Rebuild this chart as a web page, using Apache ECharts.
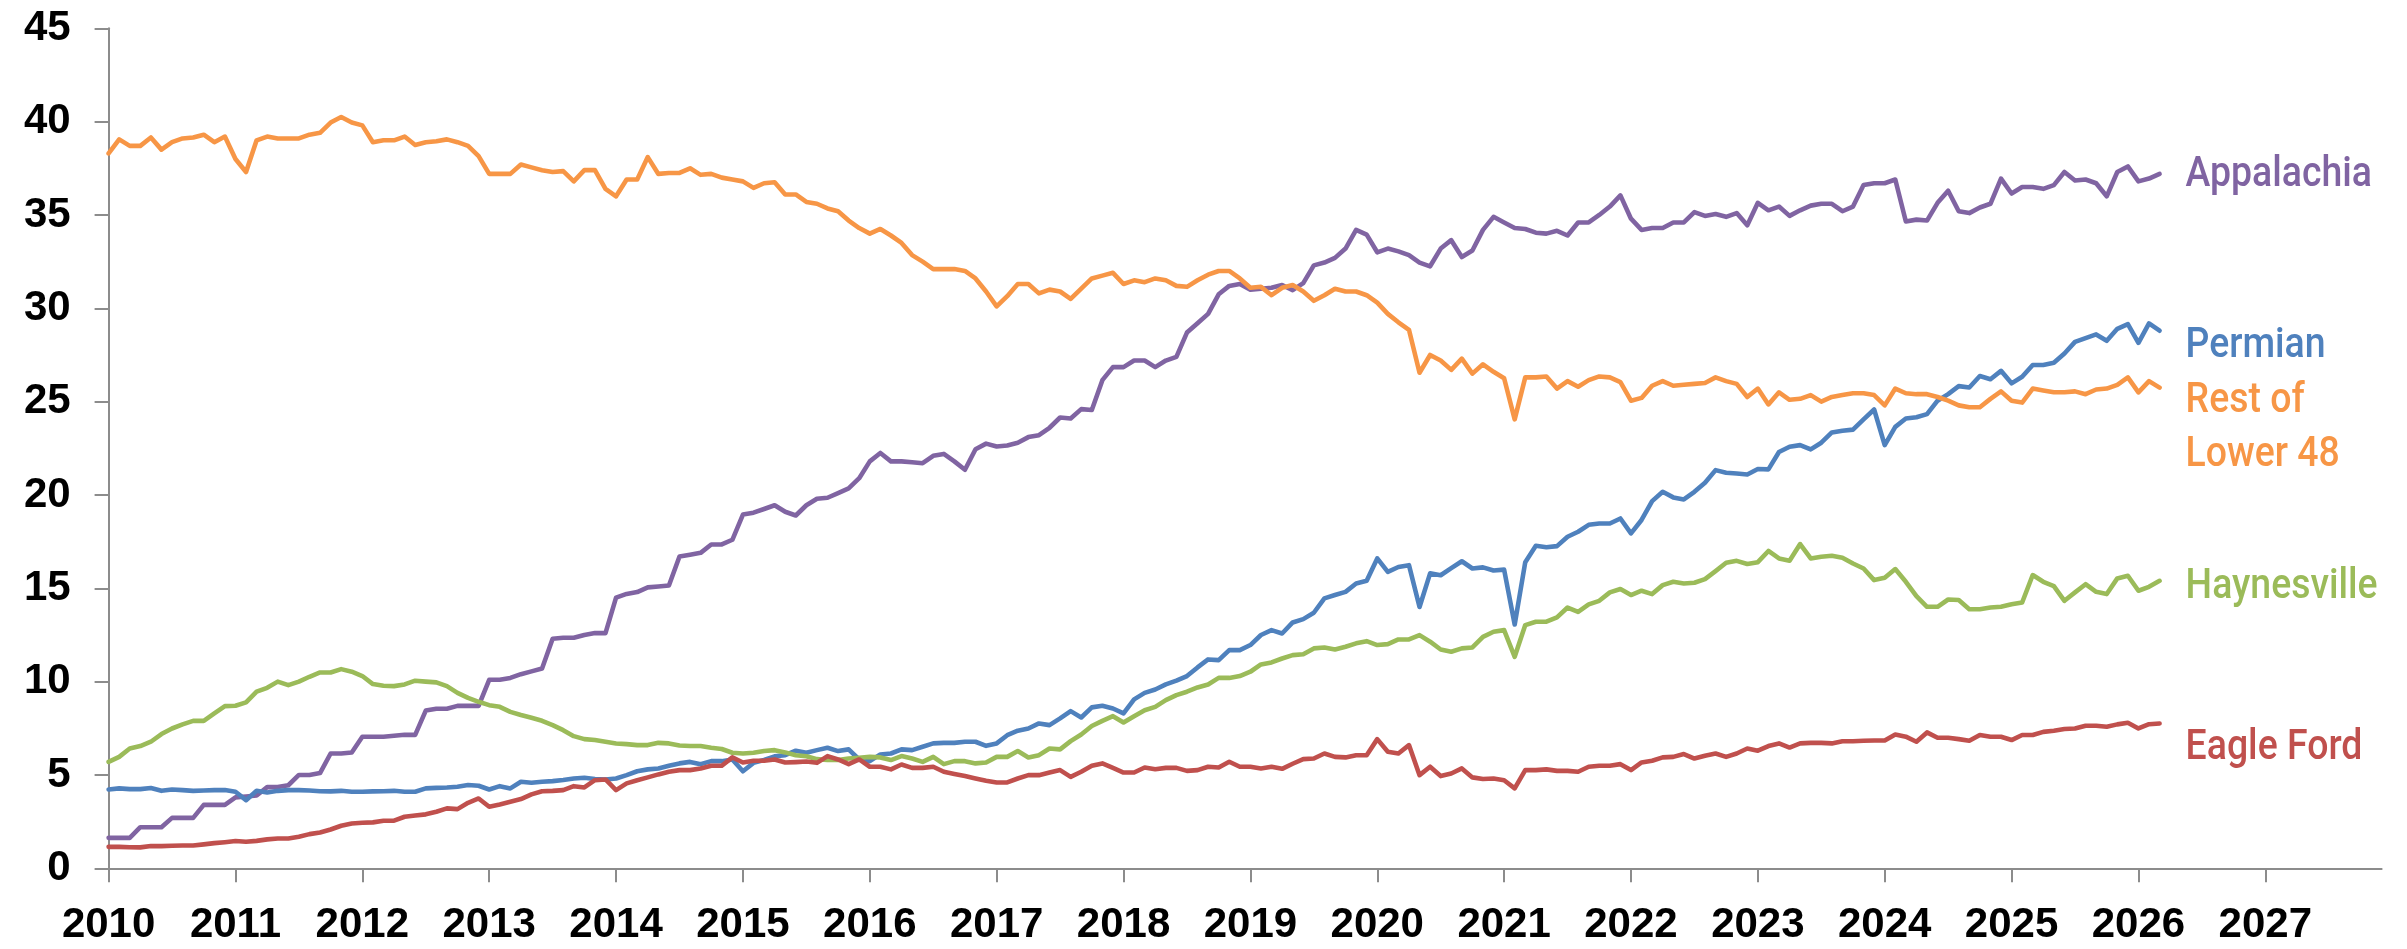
<!DOCTYPE html>
<html>
<head>
<meta charset="utf-8">
<title>Gas production by region</title>
<script src="https://cdn.jsdelivr.net/npm/echarts@6.0.0/dist/echarts.min.js"></script>
<style>
  html, body { margin: 0; padding: 0; background: #fff; }
  #main { width: 2407px; height: 949px; }
</style>
</head>
<body>
<div id="main"></div>
<script>
// monthly values, Jan 2010 .. Mar 2026
var startYear = 2010
var yearTicks = [2010, 2011, 2012, 2013, 2014, 2015, 2016, 2017, 2018, 2019, 2020, 2021, 2022, 2023, 2024, 2025, 2026, 2027]
var yTicks = [0, 5, 10, 15, 20, 25, 30, 35, 40, 45]

var appalachia = [
  1.63, 1.63, 1.63, 2.2, 2.2, 2.2, 2.7, 2.7, 2.7, 3.4, 3.4, 3.4,
  3.8, 3.85, 3.9, 4.35, 4.35, 4.45, 5.0, 5.0, 5.1, 6.15, 6.15, 6.2,
  7.05, 7.05, 7.05, 7.1, 7.15, 7.15, 8.45, 8.55, 8.55, 8.7, 8.7, 8.7,
  10.1, 10.1, 10.2, 10.4, 10.55, 10.7, 12.3, 12.35, 12.35, 12.5, 12.6, 12.6,
  14.5, 14.7, 14.8, 15.05, 15.1, 15.15, 16.7, 16.8, 16.9, 17.35, 17.35, 17.6,
  18.95, 19.05, 19.25, 19.45, 19.1, 18.9, 19.45, 19.8, 19.85, 20.1, 20.35, 20.9,
  21.8, 22.25, 21.8, 21.8, 21.75, 21.7, 22.1, 22.2, 21.8, 21.35, 22.45, 22.75,
  22.6, 22.65, 22.8, 23.1, 23.2, 23.6, 24.15, 24.1, 24.6, 24.55, 26.15, 26.85,
  26.85, 27.2, 27.2, 26.85, 27.2, 27.4, 28.7, 29.2, 29.7, 30.75, 31.2, 31.3,
  31.0, 31.05, 31.1, 31.25, 30.97, 31.35, 32.3, 32.45, 32.7, 33.2, 34.2, 33.95,
  33.0, 33.2, 33.05, 32.85, 32.45, 32.25, 33.2, 33.65, 32.75, 33.1, 34.2, 34.9,
  34.6, 34.3, 34.25, 34.05, 34.0, 34.15, 33.9, 34.6, 34.6, 35.0, 35.45, 36.05,
  34.8, 34.2, 34.3, 34.3, 34.6, 34.6, 35.15, 34.95, 35.05, 34.9, 35.1, 34.45,
  35.65, 35.25, 35.45, 34.95, 35.25, 35.5, 35.6, 35.6, 35.2, 35.45, 36.6, 36.7,
  36.7, 36.9, 34.65, 34.75, 34.7, 35.65, 36.3, 35.2, 35.1, 35.4, 35.6, 36.95,
  36.15, 36.5, 36.5, 36.4, 36.6, 37.3, 36.85, 36.9, 36.7, 36.0, 37.3, 37.6,
  36.8, 36.95, 37.2
]

var permian = [
  4.22, 4.28, 4.24, 4.24, 4.3, 4.15, 4.22, 4.19, 4.15, 4.17, 4.19, 4.19,
  4.1, 3.65, 4.15, 4.06, 4.15, 4.19, 4.19, 4.17, 4.13, 4.12, 4.15, 4.1,
  4.1, 4.12, 4.13, 4.15, 4.1, 4.1, 4.28, 4.31, 4.33, 4.37, 4.46, 4.42,
  4.22, 4.4, 4.28, 4.64, 4.58, 4.64, 4.67, 4.73, 4.81, 4.85, 4.78, 4.76,
  4.81, 4.99, 5.2, 5.3, 5.35, 5.49, 5.62, 5.7, 5.58, 5.74, 5.74, 5.83,
  5.2, 5.65, 5.8, 6.0, 6.06, 6.3, 6.19, 6.33, 6.46, 6.28, 6.37, 5.83,
  5.74, 6.1, 6.15, 6.37, 6.33, 6.51, 6.69, 6.72, 6.72, 6.78, 6.78, 6.56,
  6.69, 7.13, 7.37, 7.49, 7.76, 7.67, 8.03, 8.42, 8.08, 8.62, 8.71, 8.56,
  8.3, 9.05, 9.4, 9.58, 9.85, 10.05, 10.3, 10.76, 11.19, 11.15, 11.69, 11.69,
  11.96, 12.5, 12.76, 12.58, 13.17, 13.35, 13.69, 14.46, 14.64, 14.81, 15.26, 15.4,
  16.6, 15.88, 16.14, 16.24, 14.0, 15.8, 15.7, 16.08, 16.45, 16.06, 16.12, 15.95,
  16.0, 13.06, 16.4, 17.28, 17.2, 17.26, 17.76, 18.03, 18.4, 18.47, 18.47, 18.74,
  17.94, 18.66, 19.67, 20.17, 19.87, 19.76, 20.17, 20.65, 21.33, 21.19, 21.15, 21.1,
  21.39, 21.37, 22.3, 22.58, 22.67, 22.44, 22.8, 23.35, 23.44, 23.5, 24.05, 24.58,
  22.67, 23.65, 24.1, 24.16, 24.33, 25.05, 25.4, 25.83, 25.76, 26.37, 26.2, 26.65,
  25.98, 26.33, 26.96, 26.96, 27.08, 27.58, 28.2, 28.4, 28.6, 28.26, 28.9, 29.15,
  28.15, 29.19, 28.8
]

var restOfLower48 = [
  38.3, 39.05, 38.7, 38.7, 39.15, 38.5, 38.9, 39.1, 39.15, 39.3, 38.9, 39.2,
  38.0, 37.3, 39.0, 39.2, 39.1, 39.1, 39.1, 39.3, 39.4, 39.95, 40.25, 39.95,
  39.8, 38.9, 39.0, 39.0, 39.2, 38.75, 38.9, 38.95, 39.05, 38.9, 38.7, 38.15,
  37.2, 37.2, 37.2, 37.7, 37.55, 37.4, 37.3, 37.35, 36.8, 37.4, 37.4, 36.4,
  36.0, 36.9, 36.9, 38.1, 37.2, 37.25, 37.25, 37.5, 37.15, 37.2, 37.0, 36.9,
  36.8, 36.45, 36.7, 36.75, 36.1, 36.1, 35.7, 35.6, 35.35, 35.2, 34.7, 34.3,
  34.0, 34.25, 33.9, 33.5, 32.85, 32.5, 32.1, 32.1, 32.1, 32.0, 31.6, 30.9,
  30.1, 30.65, 31.3, 31.3, 30.8, 31.0, 30.9, 30.5, 31.05, 31.6, 31.75, 31.9,
  31.3, 31.5, 31.4, 31.6, 31.5, 31.2, 31.15, 31.5, 31.8, 32.0, 32.0, 31.6,
  31.1, 31.15, 30.7, 31.1, 31.25, 30.9, 30.4, 30.7, 31.05, 30.9, 30.9, 30.7,
  30.3, 29.7, 29.25, 28.85, 26.55, 27.5, 27.2, 26.7, 27.3, 26.5, 27.0, 26.6,
  26.25, 24.05, 26.3, 26.3, 26.35, 25.7, 26.1, 25.8, 26.15, 26.35, 26.3, 26.05,
  25.05, 25.2, 25.85, 26.1, 25.85, 25.9, 25.95, 26.0, 26.3, 26.1, 25.95, 25.25,
  25.7, 24.85, 25.5, 25.1, 25.15, 25.35, 25.0, 25.25, 25.35, 25.45, 25.45, 25.35,
  24.8, 25.7, 25.45, 25.4, 25.4, 25.25, 25.05, 24.8, 24.7, 24.7, 25.15, 25.55,
  25.05, 24.95, 25.7, 25.6, 25.5, 25.5, 25.55, 25.4, 25.65, 25.7, 25.9, 26.3,
  25.5, 26.1, 25.75
]

var haynesville = [
  5.7, 5.97, 6.42, 6.55, 6.78, 7.19, 7.49, 7.71, 7.9, 7.9, 8.3, 8.69,
  8.71, 8.89, 9.46, 9.67, 10.0, 9.81, 10.0, 10.26, 10.49, 10.49, 10.67, 10.53,
  10.3, 9.87, 9.78, 9.76, 9.85, 10.05, 10.0, 9.96, 9.76, 9.4, 9.13, 8.92,
  8.74, 8.65, 8.38, 8.21, 8.06, 7.9, 7.67, 7.4, 7.08, 6.92, 6.87, 6.78,
  6.69, 6.65, 6.6, 6.6, 6.72, 6.69, 6.58, 6.55, 6.55, 6.46, 6.39, 6.19,
  6.15, 6.19, 6.28, 6.33, 6.21, 6.06, 6.0, 5.85, 5.8, 5.8, 5.88, 5.92,
  5.97, 5.94, 5.8, 6.01, 5.88, 5.7, 5.97, 5.58, 5.74, 5.74, 5.62, 5.67,
  5.97, 5.97, 6.28, 5.94, 6.06, 6.42, 6.37, 6.81, 7.17, 7.62, 7.9, 8.15,
  7.81, 8.15, 8.47, 8.65, 9.01, 9.28, 9.46, 9.69, 9.85, 10.2, 10.2, 10.3,
  10.53, 10.92, 11.03, 11.24, 11.42, 11.47, 11.78, 11.83, 11.72, 11.87, 12.05, 12.17,
  11.96, 12.01, 12.26, 12.26, 12.49, 12.14, 11.72, 11.6, 11.78, 11.83, 12.4, 12.67,
  12.76, 11.33, 13.03, 13.21, 13.21, 13.44, 13.97, 13.74, 14.14, 14.33, 14.78, 14.96,
  14.64, 14.87, 14.69, 15.17, 15.35, 15.26, 15.3, 15.49, 15.92, 16.37, 16.47, 16.3,
  16.4, 17.0, 16.6, 16.48, 17.37, 16.6, 16.69, 16.74, 16.64, 16.33, 16.06, 15.44,
  15.56, 16.03, 15.35, 14.58, 14.01, 14.01, 14.4, 14.37, 13.88, 13.88, 13.97, 14.01,
  14.14, 14.24, 15.71, 15.35, 15.12, 14.33, 14.78, 15.22, 14.81, 14.69, 15.53, 15.67,
  14.87, 15.08, 15.4
]

var eagleFord = [
  1.15, 1.15, 1.13, 1.12, 1.19, 1.19, 1.21, 1.22, 1.22, 1.28, 1.35, 1.4,
  1.46, 1.42, 1.47, 1.55, 1.6, 1.6, 1.69, 1.83, 1.92, 2.08, 2.28, 2.4,
  2.44, 2.46, 2.55, 2.55, 2.76, 2.83, 2.89, 3.03, 3.21, 3.17, 3.51, 3.74,
  3.3, 3.42, 3.56, 3.71, 3.96, 4.13, 4.15, 4.19, 4.4, 4.33, 4.72, 4.76,
  4.19, 4.55, 4.72, 4.87, 5.03, 5.17, 5.26, 5.26, 5.35, 5.49, 5.49, 5.94,
  5.67, 5.76, 5.76, 5.83, 5.67, 5.69, 5.72, 5.65, 6.01, 5.83, 5.58, 5.83,
  5.44, 5.44, 5.3, 5.56, 5.38, 5.38, 5.44, 5.17, 5.05, 4.94, 4.81, 4.69,
  4.6, 4.6, 4.81, 4.99, 4.99, 5.13, 5.26, 4.9, 5.17, 5.49, 5.62, 5.38,
  5.13, 5.13, 5.4, 5.31, 5.38, 5.38, 5.22, 5.26, 5.44, 5.4, 5.71, 5.44,
  5.44, 5.35, 5.44, 5.33, 5.6, 5.85, 5.88, 6.15, 5.97, 5.94, 6.06, 6.06,
  6.92, 6.24, 6.15, 6.6, 4.99, 5.44, 4.94, 5.08, 5.35, 4.87, 4.78, 4.81,
  4.72, 4.28, 5.26, 5.26, 5.3, 5.22, 5.22, 5.17, 5.44, 5.49, 5.49, 5.58,
  5.26, 5.67, 5.76, 5.94, 5.97, 6.12, 5.88, 6.03, 6.15, 5.97, 6.15, 6.42,
  6.3, 6.55, 6.69, 6.47, 6.69, 6.72, 6.72, 6.69, 6.81, 6.81, 6.83, 6.85,
  6.85, 7.17, 7.05, 6.78, 7.28, 6.99, 6.99, 6.92, 6.83, 7.14, 7.05, 7.05,
  6.87, 7.14, 7.14, 7.31, 7.37, 7.46, 7.49, 7.64, 7.64, 7.58, 7.71, 7.8,
  7.49, 7.72, 7.76
]

var axisFont = '"Liberation Sans", Arial, sans-serif'
var labelFont = '500 43px Roboto, "Liberation Sans", sans-serif'

// month index on the x axis, 0 = Jan 2010
function toPoints(arr) {
  return arr.map(function (v, i) { return [i, v] })
}

var yearValues = yearTicks.map(function (y) { return (y - startYear) * 12 })

var regions = [
  { name: 'Appalachia', text: 'Appalachia', color: '#8064a2', values: appalachia, dy: 1 },
  { name: 'Permian', text: 'Permian', color: '#4f81bd', values: permian, dy: 16 },
  { name: 'Rest of Lower 48', text: 'Rest of\nLower 48', color: '#f79646', values: restOfLower48, dy: 41 },
  { name: 'Haynesville', text: 'Haynesville', color: '#9bbb59', values: haynesville, dy: 6 },
  { name: 'Eagle Ford', text: 'Eagle Ford', color: '#c0504d', values: eagleFord, dy: 25 }
]

var chart = echarts.init(document.getElementById('main'))
var option = {
  backgroundColor: '#ffffff',
  animation: false,
  grid: { left: 108.6, right: 25.4, top: 28.3, bottom: 80.7, containLabel: false },
  xAxis: {
    type: 'value',
    min: 0,
    max: 215,
    interval: 12,
    splitLine: { show: false },
    axisLine: { show: true, lineStyle: { color: '#8c8c8c', width: 2 } },
    axisTick: { show: true, length: 14, lineStyle: { color: '#8c8c8c', width: 2 }, customValues: yearValues },
    axisLabel: {
      customValues: yearValues,
      margin: 36,
      color: '#000',
      fontFamily: axisFont,
      fontWeight: 'bold',
      fontSize: 42,
      formatter: function (v) { return v % 12 === 0 ? String(startYear + v / 12) : '' }
    }
  },
  yAxis: {
    type: 'value',
    min: 0,
    max: 45,
    interval: 5,
    splitLine: { show: false },
    axisLine: { show: true, lineStyle: { color: '#8c8c8c', width: 2 } },
    axisTick: { show: true, length: 14, lineStyle: { color: '#8c8c8c', width: 2 } },
    axisLabel: {
      margin: 38,
      color: '#000',
      fontFamily: axisFont,
      fontWeight: 'bold',
      fontSize: 42,
      formatter: function (v) { return yTicks.indexOf(v) >= 0 ? String(v) : '' }
    }
  },
  series: regions.map(function (r) {
    return {
      name: r.name,
      type: 'line',
      showSymbol: false,
      silent: true,
      data: toPoints(r.values),
      lineStyle: { color: r.color, width: 4.6, join: 'round', cap: 'round' },
      itemStyle: { color: r.color }
    }
  })
}
chart.setOption(option)

// region names next to the last point of each line (condensed look via scaleX)
var labels = regions.map(function (r) {
  var last = r.values.length - 1
  var p = chart.convertToPixel({ gridIndex: 0 }, [last, r.values[last]])
  return {
    type: 'text',
    x: p[0] + 26,
    y: p[1] + r.dy,
    scaleX: 0.87,
    silent: true,
    style: {
      text: r.text,
      fill: r.color,
      font: labelFont,
      lineHeight: 54,
      align: 'left',
      verticalAlign: 'middle'
    }
  }
})
chart.setOption({ graphic: labels })
</script>
</body>
</html>
